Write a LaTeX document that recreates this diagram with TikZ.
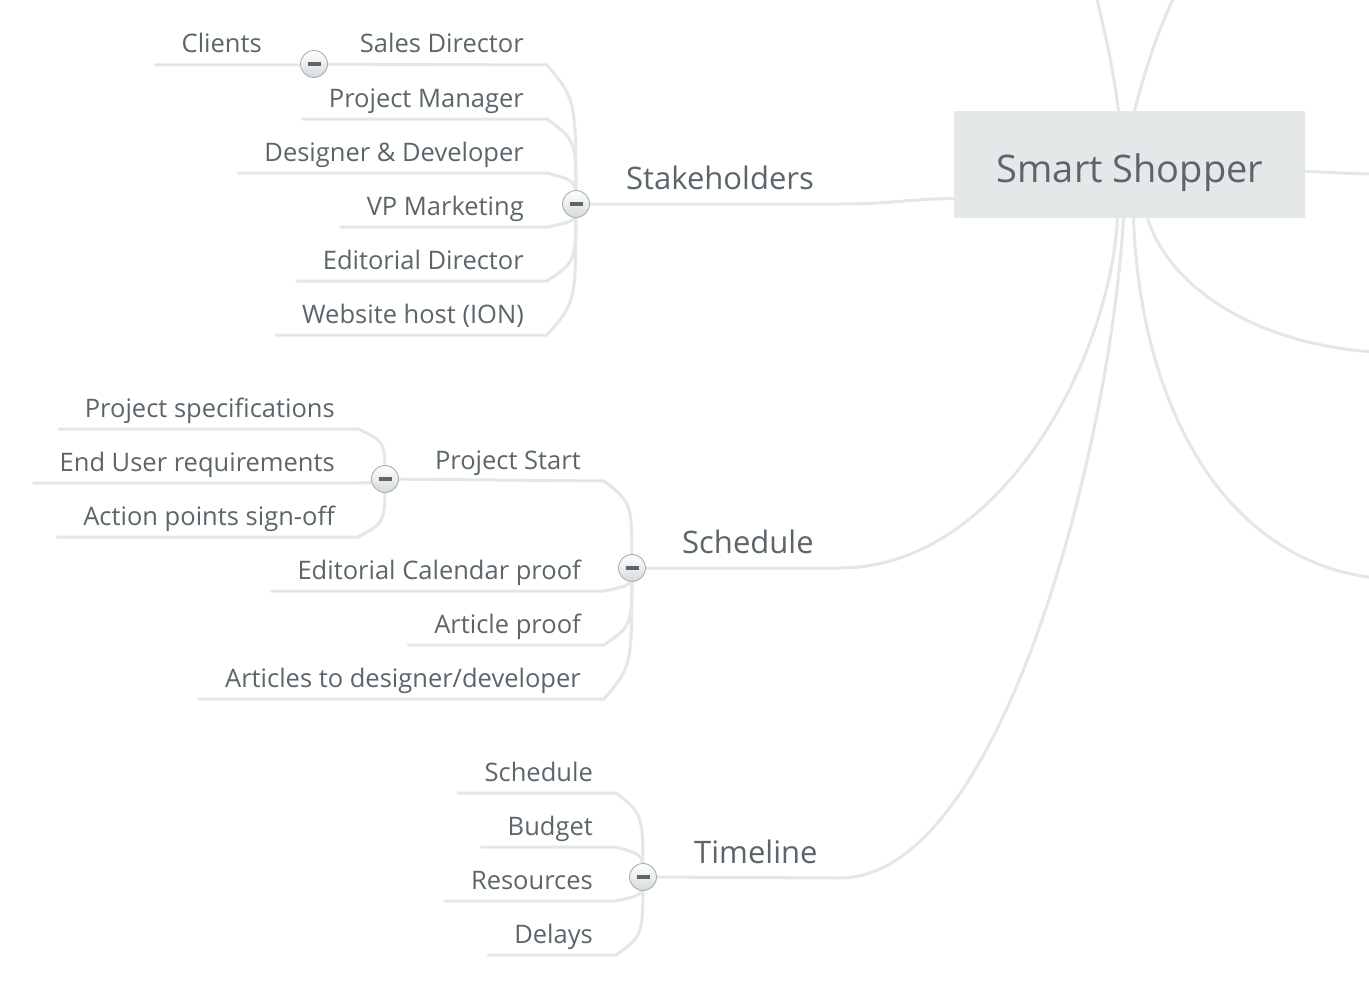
\documentclass[tikz,border=0pt]{standalone}
\usepackage{fontspec}
\setmainfont{Open Sans}
\usetikzlibrary{backgrounds,calc}
\definecolor{txtc}{HTML}{5B666B}
\definecolor{lnc}{HTML}{E3E7E8}
\definecolor{boxc}{HTML}{E4E8E9}
\definecolor{btnb}{HTML}{A8AEB1}
\definecolor{btng}{HTML}{D6DADC}
\definecolor{minc}{HTML}{5F666A}
\tikzset{
  conn/.style={draw=lnc, line width=3pt, line cap=round},
  subtxt/.style={font=\fontsize{25.5}{30}\selectfont, text=txtc, inner sep=0pt, anchor=base east},
  maintxt/.style={font=\fontsize{31}{37}\selectfont, text=txtc, inner sep=0pt, anchor=base west},
  roottxt/.style={font=\fontsize{38}{45}\selectfont, text=txtc, inner sep=0pt, anchor=base},
  rootbox/.style={fill=boxc, minimum width=351pt, minimum height=107pt, inner sep=0pt},
  toggle/.style={circle, minimum size=27pt, inner sep=0pt, draw=btnb, line width=0.9pt,
    top color=white, bottom color=btng,
    path picture={\draw[minc, line width=3.2pt] ([xshift=-6.5pt]path picture bounding box.center) -- ([xshift=6.5pt]path picture bounding box.center);}},
}
\newcommand\leaf[4]{%
  \node[subtxt] (#2) at #4 {#3};
  \path (#2.base east) ++(23pt,-12pt) coordinate (#2-r);
  \path (#2.base west) ++(-26pt,-12pt) coordinate (#2-l);
  \begin{scope}[on background layer]
    \draw[conn] (#1.center) .. controls ($(#1.center |- #2-r)!0.25!(#1.center)$) .. (#2-r) -- (#2-l);
  \end{scope}}
\newcommand\hub[5]{%
  \node[subtxt] (#2) at #4 {#3};
  \path (#2.base east) ++(23pt,-12pt) coordinate (#2-r);
  \begin{scope}[on background layer]
    \draw[conn] (#1.center) .. controls ($(#1.center |- #2-r)!0.25!(#1.center)$) .. (#2-r) -- (#5.center);
  \end{scope}}
\begin{document}
\begin{tikzpicture}[x=1pt,y=-1pt]
\useasboundingbox (0,0) rectangle (1369,990);
\begin{scope}[on background layer]
  \fill[white] (0,0) rectangle (1369,990);
\end{scope}
\clip (0,0) rectangle (1369,990);

% central topic
\node[rootbox] (root) at (1129.5,164.5) {};
\node[roottxt] (rootlabel) at (1130,182) {Smart Shopper};

% free ends of the branches leaving the picture
\coordinate (t1) at (1096,-5);
\coordinate (t2) at (1175,-5);
\coordinate (r0) at (1375,174);
\coordinate (r1) at (1375,352);
\coordinate (r2) at (1375,578);
\coordinate (kstk) at (840,204);
\coordinate (ksch) at (840,568);
\coordinate (ktl) at (840,878);

% toggles
\node[toggle] (bstk) at (576,204) {};
\node[toggle] (bcli) at (314,64) {};
\node[toggle] (bsch) at (632,568) {};
\node[toggle] (bps) at (385,479) {};
\node[toggle] (btl) at (643,877) {};

% main topics
\node[maintxt] (stk) at (626,189) {Stakeholders};
\node[maintxt] (sch) at (682,553) {Schedule};
\node[maintxt] (tl) at (694,863) {Timeline};

\begin{scope}[on background layer]
  \draw[conn] ([xshift=-11pt]root.north) .. controls (1112,60) and (1103,25) .. (t1);
  \draw[conn] ([xshift=5pt]root.north) .. controls (1145,70) and (1158,30) .. (t2);
  \draw[conn] ([yshift=-7pt]root.east) .. controls (1330,172) and (1350,174) .. (r0);
  \draw[conn] ([xshift=18pt]root.south) .. controls (1170,290) and (1260,345) .. (r1);
  \draw[conn] ([xshift=4pt]root.south) .. controls (1140,400) and (1220,560) .. (r2);
  \draw[conn] (bstk.center) -- (kstk) .. controls (895,204) and (905,199) .. ([yshift=-34pt]root.west);
  \draw[conn] (bsch.center) -- (ksch) .. controls (1000,568) and (1110,360) .. ([xshift=-12pt]root.south);
  \draw[conn] (btl.center) -- (ktl) .. controls (1000,878) and (1110,450) .. ([xshift=-6pt]root.south);
\end{scope}

% Stakeholders
\hub{bstk}{sd}{Sales Director}{(524,53)}{bcli}
\leaf{bcli}{cli}{Clients}{(262,53)}
\leaf{bstk}{pm}{Project Manager}{(524,107)}
\leaf{bstk}{dd}{Designer \& Developer}{(524,161)}
\leaf{bstk}{vp}{VP Marketing}{(524,215)}
\leaf{bstk}{ed}{Editorial Director}{(524,269)}
\leaf{bstk}{wh}{Website host (ION)}{(524,323)}

% Schedule
\hub{bsch}{ps}{Project Start}{(581,469)}{bps}
\leaf{bps}{spec}{Project specifications}{(335,417)}
\leaf{bps}{eur}{End User requirements}{(335,471)}
\leaf{bps}{aps}{Action points sign-off}{(335,525)}
\leaf{bsch}{ecp}{Editorial Calendar proof}{(581,579)}
\leaf{bsch}{ap}{Article proof}{(581,633)}
\leaf{bsch}{atd}{Articles to designer/developer}{(581,687)}

% Timeline
\leaf{btl}{tsch}{Schedule}{(593,781)}
\leaf{btl}{bud}{Budget}{(593,835)}
\leaf{btl}{res}{Resources}{(593,889)}
\leaf{btl}{del}{Delays}{(593,943)}
\end{tikzpicture}
\end{document}
